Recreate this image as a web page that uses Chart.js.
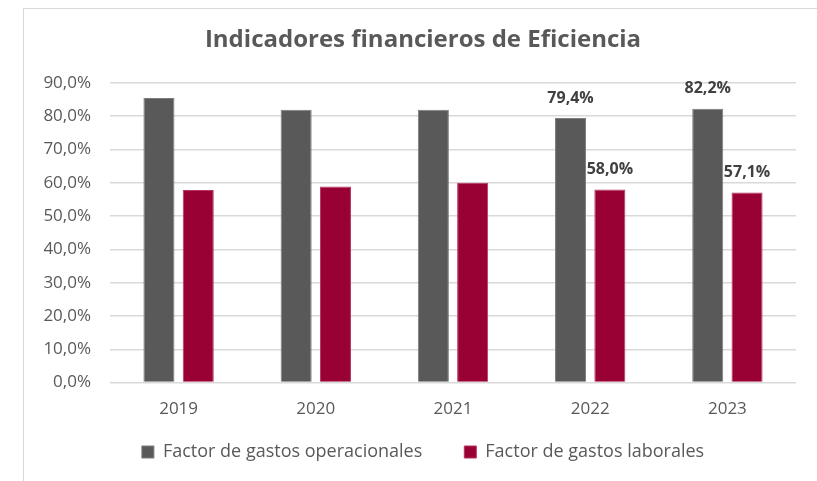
<!DOCTYPE html>
<html lang="es">
<head>
<meta charset="utf-8">
<title>Indicadores financieros de Eficiencia</title>
<script src="https://cdn.jsdelivr.net/npm/chart.js@4.4.1/dist/chart.umd.min.js"></script>
<style>
  html, body { margin: 0; padding: 0; background: #fff; overflow: hidden; }
  .chart-box {
    position: absolute;
    left: 23px;
    top: 8px;
    width: 798px;
    height: 488px;
    border-left: 1px solid #d9d9d9;
    border-top: 1px solid #d9d9d9;
  }
</style>
</head>
<body>
<div class="chart-box"><canvas id="eficienciaChart"></canvas></div>
<script>
// Indicadores de eficiencia por año (en %)
const years = ["2019", "2020", "2021", "2022", "2023"]
const gastosOperacionales = [85.4, 81.9, 81.9, 79.4, 82.2]
const gastosLaborales = [57.8, 58.9, 60.0, 58.0, 57.1]
const yTicks = [0, 10, 20, 30, 40, 50, 60, 70, 80, 90]
// solo los últimos dos años llevan etiqueta de valor
const labelledYears = ["2022", "2023"]

const FONT = "'Open Sans', 'Liberation Sans', sans-serif"
const TEXT_GRAY = "#595959"

const pct = (v) => v.toFixed(1).replace(".", ",") + "%"

// dibuja el valor encima de cada barra de los años marcados
const valueLabels = {
  id: "valueLabels",
  afterDatasetsDraw(chart) {
    const ctx = chart.ctx
    ctx.save()
    ctx.font = "bold 16px " + FONT
    ctx.fillStyle = "#404040"
    ctx.textAlign = "center"
    ctx.textBaseline = "middle"
    chart.data.datasets.forEach((ds, di) => {
      const meta = chart.getDatasetMeta(di)
      meta.data.forEach((bar, i) => {
        if (!labelledYears.includes(chart.data.labels[i])) return
        ctx.fillText(pct(ds.data[i]), bar.x, bar.y - 20)
      })
    })
    ctx.restore()
  },
}

// la leyenda usa un padding grande para separar los items,
// así que se sube para no dejar tanto hueco arriba
const legendLift = {
  id: "legendLift",
  afterLayout(chart) {
    const lg = chart.legend
    if (!lg) return
    lg.top -= 26
    lg.bottom -= 26
  },
}

new Chart(document.getElementById("eficienciaChart"), {
  type: "bar",
  data: {
    labels: years,
    datasets: [
      {
        label: "Factor de gastos operacionales",
        data: gastosOperacionales,
        backgroundColor: "#595959",
        borderColor: "#7c7c7c",
        borderWidth: 1,
        categoryPercentage: 0.573,
        barPercentage: 0.79,
      },
      {
        label: "Factor de gastos laborales",
        data: gastosLaborales,
        backgroundColor: "#990033",
        borderColor: "#b8335f",
        borderWidth: 1,
        categoryPercentage: 0.573,
        barPercentage: 0.79,
      },
    ],
  },
  options: {
    responsive: true,
    maintainAspectRatio: false,
    animation: false,
    layout: { padding: { left: 0, right: 0, top: 0, bottom: 0 } },
    plugins: {
      title: {
        display: true,
        text: "Indicadores financieros de Eficiencia",
        color: TEXT_GRAY,
        font: { family: FONT, size: 24, weight: "bold", lineHeight: 1.2 },
        padding: { top: 17, bottom: 28 },
      },
      legend: {
        position: "bottom",
        labels: {
          color: TEXT_GRAY,
          font: { family: FONT, size: 18 },
          boxWidth: 12,
          boxHeight: 12,
          padding: 42,
        },
      },
      tooltip: { enabled: false },
    },
    scales: {
      x: {
        grid: { display: false },
        border: { display: false },
        ticks: { color: TEXT_GRAY, font: { family: FONT, size: 17 }, padding: 8 },
      },
      y: {
        min: 0,
        max: 90,
        afterBuildTicks: (scale) => { scale.ticks = yTicks.map((v) => ({ value: v })) },
        grid: { color: "#d9d9d9", lineWidth: 1.5, drawTicks: false },
        border: { display: false },
        ticks: {
          color: TEXT_GRAY,
          font: { family: FONT, size: 17 },
          padding: 19,
          callback: (v) => pct(v),
        },
        afterFit: (scale) => { scale.width = 86 },
      },
      // margen derecho del área de trazado
      yRight: {
        position: "right",
        display: true,
        grid: { display: false },
        border: { display: false },
        ticks: { display: false },
        afterFit: (scale) => { scale.width = 26 },
      },
    },
  },
  plugins: [valueLabels, legendLift],
})
</script>
</body>
</html>
